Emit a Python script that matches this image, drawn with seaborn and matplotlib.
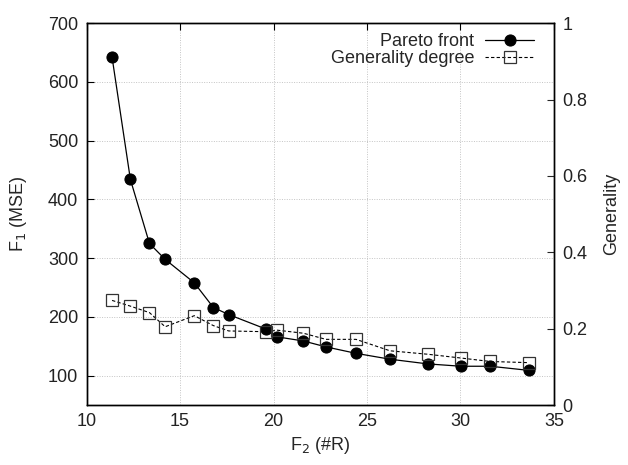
import pandas as pd
import matplotlib.pyplot as plt
import seaborn as sns
from matplotlib.ticker import FuncFormatter

# values
num_rules = [11.36, 12.34, 13.36, 14.2, 15.76, 16.78, 17.6, 19.62, 20.2,
             21.6, 22.8, 24.41, 26.23, 28.25, 30.04, 31.6, 33.65]
mse = [642, 434, 325, 298, 258, 216, 204, 179, 166,
       159, 149, 138, 128, 120, 116, 116, 109]
generality = [0.274, 0.259, 0.242, 0.205, 0.234, 0.208, 0.194, 0.192, 0.196,
              0.188, 0.172, 0.172, 0.142, 0.133, 0.123, 0.114, 0.111]

df = pd.DataFrame({'rules': num_rules, 'mse': mse, 'gen': generality})

sns.set_style("white")
plt.rcParams['font.family'] = ['Liberation Sans', 'DejaVu Sans']
plt.rcParams['font.size'] = 13
plt.rcParams['xtick.direction'] = 'in'
plt.rcParams['ytick.direction'] = 'in'

fig, ax1 = plt.subplots(figsize=(6.28, 4.65), dpi=100)
fig.subplots_adjust(left=0.138, right=0.882, top=0.95, bottom=0.129)

# left axis: Pareto front
sns.lineplot(data=df, x='rules', y='mse', ax=ax1, color='black', lw=0.9,
             marker='o', markersize=8, markeredgecolor='black',
             label='Pareto front', legend=False)
ax1.set_xlim(10, 35)
ax1.set_ylim(50, 700)
ax1.set_yticks([100, 200, 300, 400, 500, 600, 700])
ax1.set_xticks([10, 15, 20, 25, 30, 35])
ax1.grid(True, color='#c4c4c4', linestyle=(0, (1, 1.5)), linewidth=0.7)
ax1.set_xlabel('F$_2$ (#R)', labelpad=3)
ax1.set_ylabel('F$_1$ (MSE)', labelpad=14)
ax1.tick_params(top=True, length=5, width=0.8, colors='black',
                labelcolor='#222222', pad=6)
ax1.tick_params(axis='y', right=False)

# right axis: generality
ax2 = ax1.twinx()
sns.lineplot(data=df, x='rules', y='gen', ax=ax2, color='black', lw=0.8,
             linestyle=(0, (3, 2)), marker='s', markersize=9,
             markerfacecolor='none', markeredgecolor='#333333',
             markeredgewidth=0.9, label='Generality degree', legend=False)
ax2.set_ylim(0, 1)
ax2.set_yticks([0, 0.2, 0.4, 0.6, 0.8, 1])
ax2.yaxis.set_major_formatter(FuncFormatter(lambda v, p: f'{v:g}'))
ax2.set_ylabel('Generality', labelpad=11)
ax2.tick_params(axis='y', length=5, width=0.8, labelcolor='#222222', pad=6)

for ax in (ax1, ax2):
    for s in ax.spines.values():
        s.set_color('black')
        s.set_linewidth(1.0)

h1, l1 = ax1.get_legend_handles_labels()
h2, l2 = ax2.get_legend_handles_labels()
ax2.legend(h1 + h2, l1 + l2, loc='upper right', bbox_to_anchor=(1, 1.026),
           frameon=False, markerfirst=False, handlelength=2.7,
           borderaxespad=0.9, labelspacing=0.0, handletextpad=0.6,
           borderpad=0.2)

plt.savefig('out.png', dpi=100)
